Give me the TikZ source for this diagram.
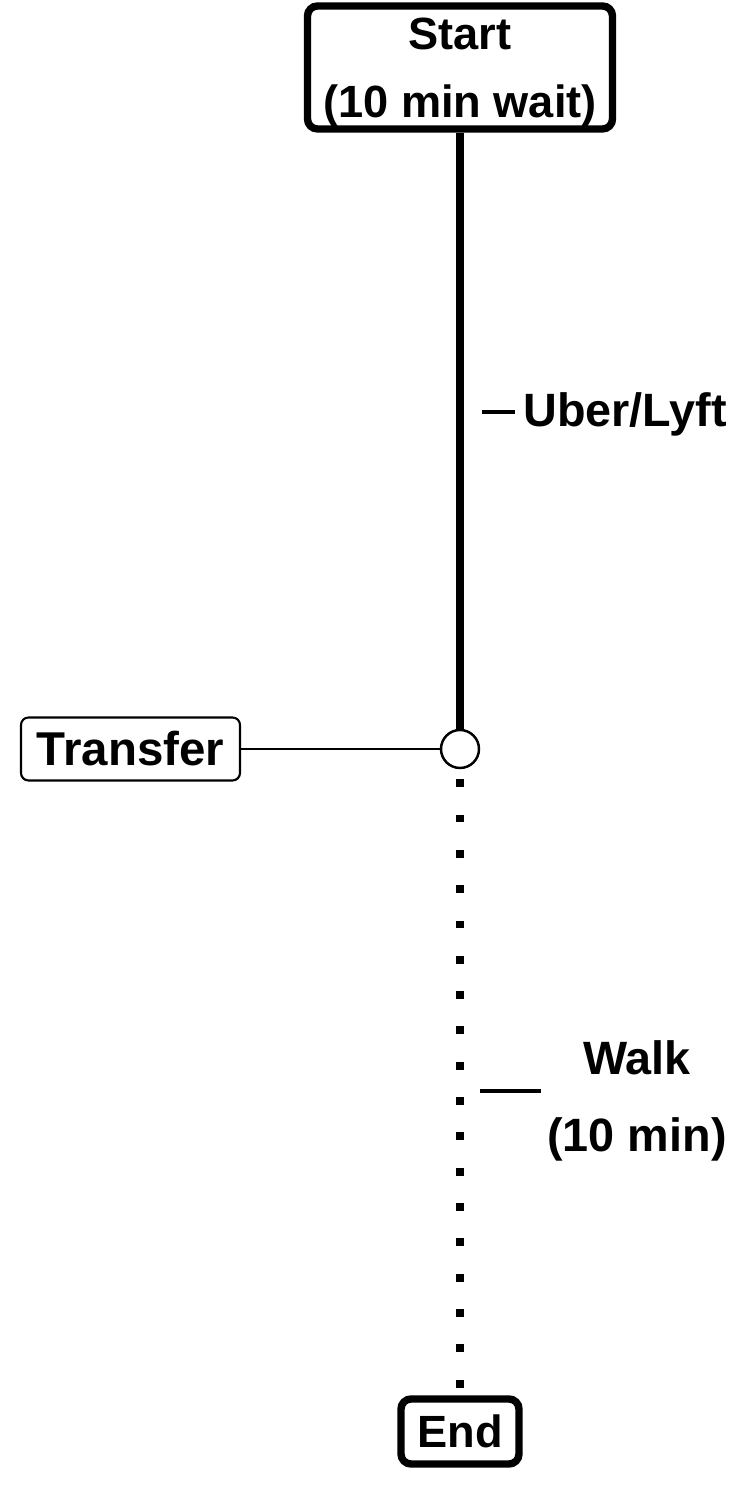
\documentclass[tikz,border=0pt]{standalone}
\usepackage{fontspec}
\setmainfont{Liberation Sans}

\begin{document}
\begin{tikzpicture}[
        stopbox/.style={draw, line width=4.2pt, rounded corners=0.2cm, align=center, inner sep=0pt},
        tag/.style={draw, line width=1.2pt, rounded corners=0.15cm, inner sep=0pt},
        ride/.style={line width=4.5pt},
        walkway/.style={line width=4.5pt, dash pattern=on 4.5pt off 15.6pt, dash phase=14.4pt},
        tick/.style={line width=2.2pt},
        every node/.style={font=\fontsize{25.7}{38.8}\selectfont\bfseries}
    ]
        \useasboundingbox (0, 0) rectangle (15, 30);
        % Stops
        \node [stopbox, minimum width=6.1cm, minimum height=2.46cm, text depth=-3.4pt] (start) at (9.2, 28.65) {Start\\(10 min wait)};
        \node [draw, circle, line width=1.4pt, minimum size=0.76cm, inner sep=0pt] (hub) at (9.2, 15.02) {};
        \node [tag, minimum width=4.38cm, minimum height=1.26cm, font=\fontsize{27}{32}\selectfont\bfseries] (transfer) at (2.61, 15.02) {Transfer};
        \node [stopbox, minimum width=2.36cm, minimum height=1.3cm] (finish) at (9.2, 1.37) {End};
        % Legs
        \draw [ride] (start) -- (hub);
        \draw [line width=1.6pt] (transfer) -- (hub);
        \draw [walkway] (hub) -- (finish);
        % % Labels
        \coordinate (uberTick) at (9.64, 21.76);
        \node [anchor=base west, inner xsep=0.16cm, inner ysep=0pt, font=\fontsize{26.6}{32}\selectfont\bfseries] (uber) at (10.3, 21.46) {Uber/Lyft};
        \draw [tick] (uberTick) -- (uberTick -| uber.west);
        \coordinate (walkTick) at (9.6, 8.18);
        \node [align=center, inner xsep=0.12cm, font=\fontsize{26.6}{44.2}\selectfont\bfseries] (walk) at (12.74, 7.98) {Walk\\(10 min)};
        \draw [tick] (walkTick) -- (walkTick -| walk.west);
    \end{tikzpicture}
\end{document}
